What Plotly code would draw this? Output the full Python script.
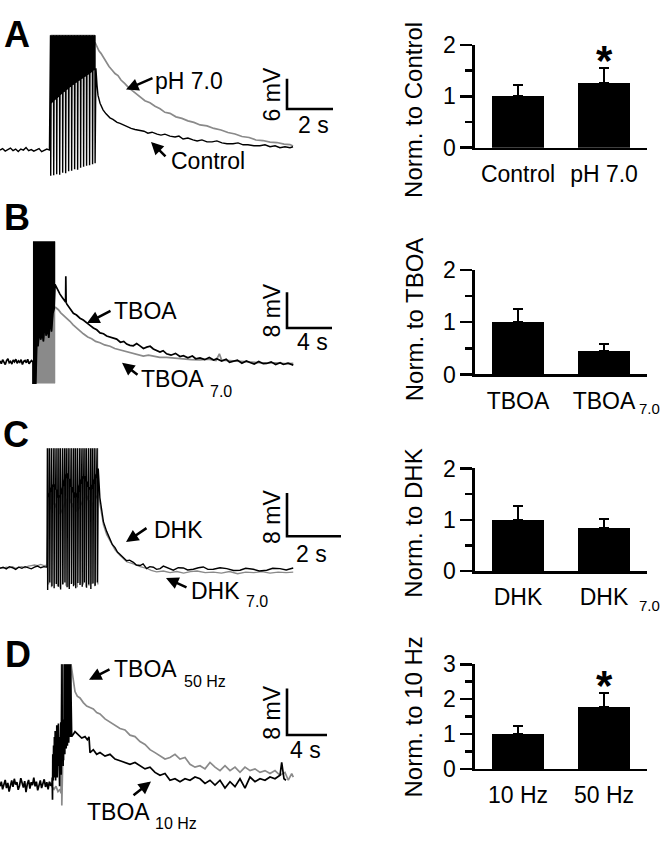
import numpy as np
import plotly.graph_objects as go

W, H = 669, 841
FONT = "Liberation Sans, Arial, Helvetica, sans-serif"
BLACK = "#000000"
GRAY = "#8a8a8a"

# ======================= DATA =======================
# ---- Panel A (time in s, membrane potential in mV) ----
A_pre_v = [0.1, 0.4, -0.1, 0.2, 0.5, 0.0, 0.3, -0.2, 0.3, 0.1, 0.6, 0.0, 0.2, -0.1, 0.1, 0.4, -0.2, 0.0, 0.3, 0.1]
A_pre_span = [0.0, 2.15]
A_spk_t = [2.20, 2.33, 2.46, 2.59, 2.72, 2.85, 2.98, 3.11, 3.24, 3.37, 3.50, 3.63, 3.76, 3.89, 4.02, 4.13]
A_spk_top = [22.9, 22.9, 22.9, 22.9, 22.9, 22.9, 22.9, 22.9, 22.9, 22.9, 22.9, 22.9, 22.9, 22.9, 22.9, 22.9]
A_spk_trough = [-5.0, -4.9, -4.7, -4.8, -4.4, -4.5, -4.1, -4.0, -3.7, -3.8, -3.4, -3.2, -3.0, -2.9, -2.7, -2.5]
A_spk_plateau = [9.4, 10.0, 10.5, 11.0, 11.6, 12.0, 12.5, 13.0, 13.4, 13.8, 14.2, 14.6, 15.0, 15.4, 15.9, 16.3]
A_control = [(4.17, 16.35), (4.22, 12.9), (4.26, 11.0), (4.35, 9.4), (4.48, 8.1), (4.61, 7.3), (4.78, 6.5),
             (4.91, 6.2), (5.09, 5.6), (5.22, 5.4), (5.39, 5.0), (5.52, 4.8), (5.70, 4.4), (5.87, 4.2),
             (6.09, 4.0), (6.26, 3.85), (6.43, 3.46), (6.61, 3.65), (6.83, 3.27), (7.00, 3.08), (7.17, 3.27),
             (7.39, 2.88), (7.61, 2.69), (7.78, 2.88), (7.96, 2.31), (8.17, 2.5), (8.39, 2.12), (8.57, 1.92),
             (8.78, 2.12), (9.00, 1.73), (9.22, 1.73), (9.43, 1.92), (9.65, 1.54), (9.87, 1.35), (10.13, 1.35),
             (10.35, 1.54), (10.57, 1.15), (10.78, 1.15), (11.04, 0.96), (11.30, 0.96), (11.52, 1.15),
             (11.74, 0.77), (11.96, 0.96), (12.17, 0.58), (12.39, 0.77), (12.61, 0.58), (12.74, 0.77)]
A_ph70 = [(4.13, 21.5), (4.22, 20.6), (4.30, 19.8), (4.39, 19.3), (4.48, 18.6), (4.61, 17.8), (4.74, 16.7),
          (4.87, 16.0), (5.00, 15.3), (5.13, 14.9), (5.26, 14.0), (5.43, 13.3), (5.61, 12.4), (5.78, 11.8),
          (5.96, 11.1), (6.13, 10.6), (6.30, 9.9), (6.52, 9.5), (6.74, 8.8), (6.96, 8.3), (7.17, 7.6),
          (7.39, 7.4), (7.65, 6.7), (7.91, 6.4), (8.17, 5.9), (8.43, 5.6), (8.70, 5.1), (9.00, 4.9),
          (9.30, 4.4), (9.61, 4.1), (9.91, 3.6), (10.22, 3.3), (10.52, 2.8), (10.83, 2.6), (11.13, 2.1),
          (11.43, 2.0), (11.74, 1.7), (12.04, 1.6), (12.35, 1.3), (12.61, 1.2), (12.74, 0.9)]

# ---- Panel B ----
B_pre_v = [0.2, -0.4, 0.5, 0.0, -0.6, 0.3, 0.7, -0.2, 0.1, -0.5, 0.4, 0.0, 0.6, -0.3, 0.2, -0.1,
           0.5, -0.6, 0.1, 0.3, -0.2, 0.6, -0.4, 0.0, 0.3, -0.1]
B_pre_span = [0.0, 2.93]
B_tboa_burst_t = [2.93, 3.05, 3.18, 3.27, 3.38, 3.50, 3.62, 3.74, 3.86, 3.98, 4.10, 4.22, 4.34, 4.46, 4.58, 4.70, 4.82, 4.89]
B_tboa_burst_lo = [-4.8, -4.8, -4.8, 4.3, 3.5, 7.2, 5.0, 6.5, 4.6, 8.7, 5.9, 7.5, 5.4, 9.6, 6.8, 10.9, 12.0, 17.4]
B_tboa_burst_hi = [27.0, 27.0, 27.0, 27.0, 27.0, 27.0, 27.0, 27.0, 27.0, 27.0, 27.0, 27.0, 27.0, 27.0, 27.0, 27.0, 27.0, 27.0]
B_tboa70_burst_t = [3.20, 4.89]
B_tboa70_burst_lo = [-4.8, -4.8]
B_tboa70_burst_hi = [12.3, 12.3]
B_tboa = [(4.89, 17.4), (5.10, 16.3), (5.33, 15.2), (5.55, 14.4), (5.78, 13.6), (5.83, 13.8), (5.85, 19.2),
          (5.88, 13.4), (5.93, 13.0), (6.20, 12.0), (6.52, 10.9), (6.80, 10.5), (7.11, 9.8), (7.40, 9.4),
          (7.70, 8.7), (8.00, 8.2), (8.30, 7.6), (8.60, 7.2), (8.89, 6.5), (9.20, 6.3), (9.48, 5.8),
          (9.80, 5.5), (10.05, 5.3), (10.37, 5.1), (10.70, 4.4), (11.00, 4.6), (11.26, 4.0), (11.55, 3.7),
          (11.85, 3.6), (12.15, 4.1), (12.44, 3.6), (12.75, 3.0), (13.04, 3.3), (13.35, 3.5), (13.63, 2.9),
          (13.90, 2.6), (14.22, 2.2), (14.50, 2.5), (14.81, 1.8), (15.20, 1.5), (15.60, 1.9), (16.00, 1.2),
          (16.30, 1.4), (16.70, 0.9), (17.10, 1.3), (17.40, 0.7), (17.78, 0.9), (18.20, 0.5), (18.60, 1.0),
          (19.00, 0.4), (19.26, 0.7), (19.70, 0.2), (20.10, 0.6), (20.40, -0.1), (20.74, 0.14), (21.10, 0.4),
          (21.50, -0.3), (21.90, 0.2), (22.22, -0.14), (22.60, -0.5), (23.00, 0.1), (23.40, -0.4),
          (23.70, -0.36), (24.10, 0.0), (24.50, -0.6), (24.90, -0.2), (25.19, -0.58), (25.60, -0.3), (26.07, -0.72)]
B_tboa70 = [(4.89, 12.3), (5.05, 12.0), (5.19, 11.7), (5.40, 11.0), (5.63, 10.5), (5.90, 9.9), (6.22, 9.1),
            (6.50, 8.3), (6.81, 7.6), (7.10, 6.9), (7.41, 6.3), (7.80, 5.6), (8.15, 5.2), (8.50, 4.6),
            (8.89, 4.3), (9.30, 3.8), (9.78, 3.5), (10.20, 3.0), (10.67, 2.7), (11.20, 2.3), (11.85, 1.8),
            (12.30, 1.6), (12.74, 1.3), (13.20, 1.5), (13.63, 1.3), (14.20, 1.0), (14.81, 1.0), (15.50, 0.8),
            (16.30, 0.7), (17.00, 0.5), (17.78, 0.43), (18.50, 0.6), (19.20, 0.3), (19.50, 1.8), (19.70, 0.4),
            (20.20, 0.3), (20.74, 0.14), (21.50, 0.0), (22.30, -0.1), (23.00, -0.3), (23.70, -0.3),
            (24.50, -0.2), (25.30, -0.4), (26.07, -0.36)]

# ---- Panel C ----
C_pre_dhk_v = [0.0, 0.2, -0.1, 0.3, 0.1, -0.2, 0.2, 0.0, 0.3, 0.1, -0.1, 0.2, 0.4, 0.1, 0.3, 0.2]
C_pre_dhk70_v = [0.1, 0.0, 0.2, 0.1, 0.3, 0.0, 0.2, 0.3, 0.1, 0.4, 0.5, 0.6, 0.5, 0.7, 0.5, 0.6]
C_pre_span = [0.0, 1.74]
C_dhk_spk_t = [1.76, 1.84, 1.92, 2.00, 2.08, 2.16, 2.24, 2.32, 2.40, 2.48, 2.56, 2.64,
               2.72, 2.80, 2.88, 2.96, 3.04, 3.12, 3.20, 3.28, 3.36, 3.44, 3.52, 3.60]
C_dhk_spk_top = [22.1, 22.1, 22.1, 22.1, 22.1, 22.1, 22.1, 22.1, 22.1, 22.1, 22.1, 22.1,
                 22.1, 22.1, 22.1, 22.1, 22.1, 22.1, 22.1, 22.1, 22.1, 22.1, 22.1, 22.1]
C_dhk_spk_trough = [-4.0, -2.6, -3.3, -3.7, -2.9, -3.4, -3.9, -3.0, -2.6, -3.5, -3.8, -2.9,
                    -3.3, -3.7, -2.7, -3.1, -3.4, -2.6, -3.6, -3.0, -3.8, -2.8, -3.2, -2.6]
C_dhk_spk_plateau = [13.0, 14.0, 15.0, 15.5, 14.5, 13.0, 13.5, 15.0, 16.5, 17.5, 16.5, 15.0,
                     14.0, 13.0, 14.0, 15.5, 16.5, 17.0, 16.0, 15.0, 14.5, 15.5, 16.5, 17.5]
C_dhk70_spk_t = [1.80, 1.90, 2.01, 2.12, 2.22, 2.33, 2.44, 2.54, 2.65, 2.76, 2.86, 2.97, 3.08, 3.18, 3.29, 3.40, 3.50, 3.62]
C_dhk70_spk_top = [22.1, 22.1, 22.1, 22.1, 22.1, 22.1, 22.1, 22.1, 22.1, 22.1, 22.1, 22.1, 22.1, 22.1, 22.1, 22.1, 22.1, 22.1]
C_dhk70_spk_trough = [-3.0, -3.5, -2.8, -3.3, -3.6, -2.9, -3.2, -3.4, -2.7, -3.1, -3.5, -2.8, -3.0, -3.4, -3.2, -2.9, -3.3, -3.0]
C_dhk70_spk_plateau = [10.5, 11.5, 12.0, 11.0, 10.0, 11.0, 12.5, 13.0, 12.0, 11.0, 10.5, 11.5, 12.5, 13.5, 12.5, 11.5, 12.5, 13.5]
C_dhk = [(3.64, 18.4), (3.70, 13.0), (3.77, 10.4), (3.83, 8.6), (3.95, 6.8), (4.07, 5.3), (4.16, 4.4),
         (4.26, 3.8), (4.35, 3.0), (4.44, 2.6), (4.56, 2.0), (4.69, 1.4), (4.80, 1.5), (4.94, 1.1),
         (5.05, 0.6), (5.19, 0.5), (5.30, 0.8), (5.43, -0.06), (5.55, 0.3), (5.68, 0.2), (5.80, -0.2),
         (5.93, -0.06), (6.05, 0.4), (6.17, 0.2), (6.30, -0.1), (6.42, -0.36), (6.60, 0.1), (6.79, 0.06),
         (6.95, -0.3), (7.16, -0.18), (7.35, 0.1), (7.53, 0.24), (7.70, -0.2), (7.90, -0.18), (8.15, 0.1),
         (8.40, -0.06), (8.65, -0.4), (8.89, -0.36), (9.10, 0.0), (9.38, -0.18), (9.60, -0.5), (9.88, -0.36),
         (10.10, 0.0), (10.37, -0.06), (10.60, -0.3), (10.86, 0.06)]
C_dhk70 = [(3.62, 16.0), (3.70, 11.8), (3.83, 8.0), (3.95, 6.2), (4.07, 5.0), (4.26, 3.4), (4.44, 2.4),
           (4.69, 1.2), (4.94, 0.8), (5.19, 0.3), (5.43, 0.0), (5.60, -0.4), (5.80, -0.66), (6.05, -0.5),
           (6.30, -0.8), (6.55, -0.6), (6.80, -0.9), (7.05, -0.6), (7.30, -0.5), (7.60, -0.8), (7.90, -0.7),
           (8.20, -0.9), (8.50, -0.6), (8.80, -1.0), (9.10, -0.7), (9.40, -0.8), (9.70, -0.6), (10.00, -0.9),
           (10.30, -0.7), (10.60, -0.8), (10.86, -0.7)]

# ---- Panel D ----
D_pre_10_v = [-0.5, 0.3, -1.0, -0.2, 0.6, -0.8, 0.1, -1.4, -0.3, 0.5, -0.6, 0.8, -0.2, 0.2, -1.1, -0.4,
              0.9, 0.0, -0.7, 0.4, -1.5, -0.1, 0.6, -0.9, 0.2, -0.3, 1.0, -0.5, 0.3, -1.2, -0.2, 0.5,
              -0.8, 0.1, 0.7, -0.6, 0.2, -1.0, 0.3, -0.4, 0.0]
D_pre_span = [0.0, 5.2]
D_burst_10 = [(5.22, 1.0), (5.25, -2.8), (5.28, 5.0), (5.32, 0.5), (5.36, 6.5), (5.40, 1.0), (5.44, 8.0),
              (5.48, 2.5), (5.52, 9.0), (5.56, 0.5), (5.60, 8.5), (5.64, 2.0), (5.68, 10.0), (5.72, 1.0),
              (5.76, 9.5), (5.80, 3.0), (5.84, 10.3), (5.88, 2.0), (5.92, 9.0), (5.96, -0.5), (6.00, 8.0),
              (6.04, 2.0), (6.08, 10.5), (6.12, 1.5), (6.16, 9.0), (6.20, 20.5), (6.23, 4.0), (6.27, 10.0),
              (6.31, 3.0), (6.35, 11.0), (6.40, 5.0), (6.45, 20.5), (6.48, 5.0), (6.53, 10.5), (6.58, 20.5),
              (6.62, 6.0), (6.66, 11.0), (6.70, 20.5), (6.74, 6.5), (6.78, 10.0), (6.83, 20.5), (6.87, 7.0),
              (6.92, 11.0), (6.96, 20.5), (7.00, 8.0), (7.05, 20.5), (7.10, 8.5)]
D_10hz = [(7.17, 8.05), (7.50, 8.9), (7.83, 8.3), (8.17, 7.8), (8.50, 8.05), (8.73, 7.5), (8.90, 8.0),
          (9.00, 5.3), (9.33, 5.8), (9.67, 5.0), (10.0, 5.3), (10.5, 4.7), (11.0, 5.0), (11.5, 4.2),
          (12.0, 3.9), (12.5, 3.6), (13.0, 3.3), (13.5, 3.6), (14.0, 3.05), (14.5, 2.5), (15.0, 2.8),
          (15.5, 1.9), (16.0, 1.4), (16.5, 1.7), (17.0, 0.55), (17.5, 0.8), (18.0, 0.3), (18.5, 0.8),
          (19.0, 0.55), (19.5, 1.1), (20.0, 0.8), (20.5, 0.0), (21.0, 0.55), (21.5, -0.3), (22.0, 0.55),
          (22.5, -0.8), (23.0, 0.3), (23.5, -0.55), (24.0, 0.8), (24.5, -0.8), (25.0, 1.1), (25.5, 0.3),
          (26.0, 0.8), (26.5, 0.55), (27.0, 1.1), (27.5, 0.8), (28.0, 1.4), (28.17, 3.6), (28.4, 0.8),
          (28.6, 0.55)]
D_pre_50 = [(4.8, -0.4), (5.0, 0.2), (5.2, -0.6), (5.4, -1.0), (5.6, -0.5), (5.8, -1.4), (6.0, -1.0), (6.1, -1.7)]
D_burst_50 = [(6.15, 20.5), (6.18, -3.8), (6.25, 2.0), (6.35, 20.5), (6.40, 4.0), (6.50, 20.5), (6.55, 6.0),
              (6.65, 20.5), (6.70, 8.0), (6.80, 20.5), (6.85, 9.0), (6.95, 20.5), (7.00, 10.0), (7.10, 20.5)]
D_50hz = [(7.17, 19.7), (7.33, 18.05), (7.50, 15.8), (7.73, 15.0), (8.0, 14.7), (8.33, 13.9), (8.67, 13.3),
          (9.0, 13.05), (9.33, 12.8), (9.67, 12.2), (10.0, 11.95), (10.5, 11.1), (11.0, 10.55), (11.5, 10.0),
          (12.0, 9.45), (12.5, 9.2), (13.0, 8.3), (13.5, 8.05), (14.0, 7.2), (14.5, 6.7), (15.0, 5.8),
          (15.5, 5.3), (16.0, 4.7), (16.5, 4.2), (17.0, 4.45), (17.5, 5.0), (18.0, 4.2), (18.5, 4.45),
          (19.0, 3.3), (19.5, 2.8), (20.0, 3.05), (20.5, 2.5), (21.0, 3.6), (21.5, 2.8), (22.0, 2.2),
          (22.5, 3.05), (23.0, 2.2), (23.5, 2.8), (24.0, 1.9), (24.5, 2.8), (25.0, 2.2), (25.5, 2.5),
          (26.0, 1.9), (26.5, 2.2), (27.0, 1.7), (27.5, 2.2), (28.0, 1.4), (28.5, 1.9), (28.83, 0.55),
          (29.17, 1.7), (29.33, 1.1)]

# ---- scale bars ----
scale_time_s = [2, 4, 2, 4]
scale_mv = [6, 8, 8, 8]

# ---- bar charts ----
bar_cats = [["Control", "pH 7.0"], ["TBOA", "TBOA"], ["DHK", "DHK"], ["10 Hz", "50 Hz"]]
bar_subs = [["", ""], ["", "7.0"], ["", "7.0"], ["", ""]]
bar_means = [[1.0, 1.26], [1.0, 0.44], [1.0, 0.85], [1.0, 1.78]]
bar_sem = [[0.23, 0.29], [0.26, 0.15], [0.26, 0.17], [0.22, 0.39]]
bar_sig = [[False, True], [False, False], [False, False], [False, True]]
bar_ymax = [2, 2, 2, 3]
bar_ytitles = ["Norm. to Control", "Norm. to TBOA", "Norm. to DHK", "Norm. to 10 Hz"]
panel_letters = ["A", "B", "C", "D"]

# ======================= LAYOUT GEOMETRY (pixels) =======================
def px_x(px):
    return px / W

def px_y(py):
    return 1 - py / H

trace_geo = [
    dict(sx=23.0, sy=5.2, y0=142, top=18, bot=182, sb=(287, 99)),
    dict(sx=11.25, sy=4.6, y0=360, top=228, bot=398, sb=(287, 325)),
    dict(sx=27.0, sy=5.6, y0=573, top=440, bot=605, sb=(287, 540)),
    dict(sx=10.0, sy=6.0, y0=795, top=660, bot=835, sb=(287, 745)),
]
TR_X = (0, 345)
bar_geo = [(33, 139), (265, 373), (470, 576), (672, 780)]  # (top px, bottom px)
BAR_X = (475, 647)

fig = go.Figure()
LW = 1.7


def unzip(pairs):
    return [p[0] for p in pairs], [p[1] for p in pairs]


def spikes(ts, tops, troughs, plateaus):
    xs, ys = [], []
    for t, hi, lo, pl in zip(ts, tops, troughs, plateaus):
        xs += [t - 0.02, t - 0.005, t + 0.005, t + 0.02]
        ys += [pl, hi, lo, pl]
    return xs, ys


def axn(k):
    return ("x" if k == 1 else f"x{k}"), ("y" if k == 1 else f"y{k}")


def line(ax_i, xs, ys, color, width=LW):
    xa, ya = axn(ax_i)
    fig.add_trace(go.Scatter(x=xs, y=ys, mode="lines", line=dict(color=color, width=width),
                             xaxis=xa, yaxis=ya, hoverinfo="skip"))


def band(ax_i, ts, lo, hi, color):
    xa, ya = axn(ax_i)
    xs = list(ts) + list(ts)[::-1]
    ys = list(hi) + list(lo)[::-1]
    fig.add_trace(go.Scatter(x=xs, y=ys, mode="lines", fill="toself", fillcolor=color,
                             line=dict(color=color, width=0.5), xaxis=xa, yaxis=ya, hoverinfo="skip"))

# ---- Panel A traces ----
t_pre = list(np.linspace(A_pre_span[0], A_pre_span[1], len(A_pre_v)))
x_ph, y_ph = unzip(A_ph70)
line(1, x_ph, y_ph, GRAY)
band(1, A_spk_t, A_spk_plateau, A_spk_top, BLACK)
sx_, sy_ = spikes(A_spk_t, A_spk_top, A_spk_trough, A_spk_plateau)
xc, yc = unzip(A_control)
line(1, t_pre + sx_ + xc, A_pre_v + sy_ + yc, BLACK, 1.4)

# ---- Panel B traces ----
band(2, B_tboa70_burst_t, B_tboa70_burst_lo, B_tboa70_burst_hi, GRAY)
x7, y7 = unzip(B_tboa70)
line(2, x7, y7, GRAY)
band(2, B_tboa_burst_t, B_tboa_burst_lo, B_tboa_burst_hi, BLACK)
t_pre = list(np.linspace(B_pre_span[0], B_pre_span[1], len(B_pre_v)))
xb, yb = unzip(B_tboa)
line(2, t_pre + B_tboa_burst_t + xb, B_pre_v + B_tboa_burst_lo + yb, BLACK)

# ---- Panel C traces ----
t_pre = list(np.linspace(C_pre_span[0], C_pre_span[1], len(C_pre_dhk70_v)))
sx_, sy_ = spikes(C_dhk70_spk_t, C_dhk70_spk_top, C_dhk70_spk_trough, C_dhk70_spk_plateau)
x7, y7 = unzip(C_dhk70)
line(3, t_pre + sx_ + x7, C_pre_dhk70_v + sy_ + y7, GRAY, 1.3)
t_pre = list(np.linspace(C_pre_span[0], C_pre_span[1], len(C_pre_dhk_v)))
sx_, sy_ = spikes(C_dhk_spk_t, C_dhk_spk_top, C_dhk_spk_trough, C_dhk_spk_plateau)
xd, yd = unzip(C_dhk)
line(3, t_pre + sx_ + xd, C_pre_dhk_v + sy_ + yd, BLACK, 1.4)

# ---- Panel D traces ----
xp, yp = unzip(D_pre_50)
xbb, ybb = unzip(D_burst_50)
x5, y5 = unzip(D_50hz)
line(4, xp + xbb + x5, yp + ybb + y5, GRAY)
t_pre = list(np.linspace(D_pre_span[0], D_pre_span[1], len(D_pre_10_v)))
xbb, ybb = unzip(D_burst_10)
x1, y1 = unzip(D_10hz)
line(4, t_pre + xbb + x1, D_pre_10_v + ybb + y1, BLACK)

# ---- scale bars (in data units of each trace panel) ----
for i, g in enumerate(trace_geo):
    k = i + 1
    t0 = (g["sb"][0] - TR_X[0]) / g["sx"]
    v0 = (g["y0"] - g["sb"][1]) / g["sy"]
    line(k, [t0, t0, t0 + scale_time_s[i]], [v0 + scale_mv[i], v0, v0], BLACK, 2.6)

# ---- axes for trace panels ----
layout_axes = {}
for i, g in enumerate(trace_geo):
    k = i + 1
    xname = "xaxis" if k == 1 else f"xaxis{k}"
    yname = "yaxis" if k == 1 else f"yaxis{k}"
    xa, ya = axn(k)
    layout_axes[xname] = dict(domain=[px_x(TR_X[0]), px_x(TR_X[1])],
                              range=[0, (TR_X[1] - TR_X[0]) / g["sx"]], visible=False, anchor=ya)
    layout_axes[yname] = dict(domain=[px_y(g["bot"]), px_y(g["top"])],
                              range=[(g["y0"] - g["bot"]) / g["sy"], (g["y0"] - g["top"]) / g["sy"]],
                              visible=False, anchor=xa)

# ---- bar charts ----
annotations = []
AX_W = 2.6
for i in range(4):
    k = i + 5
    fig.add_trace(go.Bar(
        x=[0, 1], y=bar_means[i], width=0.6, marker=dict(color=BLACK, line=dict(width=0)),
        error_y=dict(type="data", array=bar_sem[i], arrayminus=[0, 0], symmetric=False,
                     color=BLACK, thickness=2, width=5),
        xaxis=f"x{k}", yaxis=f"y{k}", hoverinfo="skip"))
    top, bot = bar_geo[i]
    layout_axes[f"xaxis{k}"] = dict(
        domain=[px_x(BAR_X[0]), px_x(BAR_X[1])], range=[-0.5, 1.5], anchor=f"y{k}",
        showline=True, linewidth=AX_W, linecolor=BLACK, ticks="", showgrid=False, zeroline=False,
        tickmode="array", tickvals=[0, 1], ticktext=bar_cats[i],
        tickfont=dict(family=FONT, size=23, color=BLACK), ticklabelstandoff=4)
    layout_axes[f"yaxis{k}"] = dict(
        domain=[px_y(bot), px_y(top)], range=[0, bar_ymax[i]], anchor=f"x{k}",
        showline=True, linewidth=AX_W, linecolor=BLACK, showgrid=False, zeroline=False,
        ticks="outside", ticklen=12, tickwidth=AX_W, tickcolor=BLACK, dtick=1, tick0=0,
        tickfont=dict(family=FONT, size=23, color=BLACK),
        minor=dict(ticks="outside", ticklen=7, tickwidth=AX_W, tickcolor=BLACK, dtick=0.5, showgrid=False))
    ycen = [100, 316, 527, 727][i]
    annotations.append(dict(text=bar_ytitles[i], x=px_x(414), y=px_y(ycen), xref="paper", yref="paper",
                            textangle=-90, showarrow=False, xanchor="center", yanchor="middle",
                            font=dict(family=FONT, size=24, color=BLACK)))
    for j in range(2):
        if bar_subs[i][j]:
            annotations.append(dict(text=bar_subs[i][j], x=j, y=0, xref=f"x{k}", yref=f"y{k}",
                                    xshift=33, yshift=-34, showarrow=False, xanchor="left",
                                    yanchor="middle", font=dict(family=FONT, size=15, color=BLACK)))
        if bar_sig[i][j]:
            annotations.append(dict(text="<b>*</b>", x=j, y=bar_means[i][j] + bar_sem[i][j], xref=f"x{k}",
                                    yref=f"y{k}", yshift=8, showarrow=False, xanchor="center",
                                    yanchor="middle", font=dict(family=FONT, size=42, color=BLACK)))


def txt(s, x, y, size=23, angle=0, xanchor="center", bold=False):
    annotations.append(dict(text=f"<b>{s}</b>" if bold else s, x=px_x(x), y=px_y(y), xref="paper",
                            yref="paper", showarrow=False, xanchor=xanchor, yanchor="middle",
                            textangle=angle, font=dict(family=FONT, size=size, color=BLACK)))


def arrow(tail, head):
    annotations.append(dict(text="", x=px_x(head[0]), y=px_y(head[1]), xref="paper", yref="paper",
                            ax=tail[0] - head[0], ay=tail[1] - head[1], axref="pixel", ayref="pixel",
                            showarrow=True, arrowhead=2, arrowsize=1.0, arrowwidth=2.5,
                            arrowcolor=BLACK, standoff=0, startstandoff=0))

for letter, (lx, ly) in zip(panel_letters, [(17, 22), (17, 211), (16, 435), (18, 662)]):
    txt(letter, lx, ly, size=36, bold=True)

# Panel A labels
txt("pH 7.0", 189, 70)
arrow((154, 67), (126, 79))
txt("Control", 208, 153)
arrow((167, 149), (151, 133))
txt("6 mV", 272, 84, angle=-90)
txt("2 s", 313, 116)
# Panel B labels
txt("TBOA", 145, 308)
arrow((112, 307), (87, 320))
txt("TBOA", 172, 378)
txt("7.0", 208, 391, size=16, xanchor="left")
arrow((139, 374), (122, 361))
txt("8 mV", 272, 307, angle=-90)
txt("4 s", 312, 340)
# Panel C labels
txt("DHK", 178, 534)
arrow((148, 531), (126, 546))
txt("DHK", 215, 596)
txt("7.0", 244, 607, size=16, xanchor="left")
arrow((188, 593), (166, 583))
txt("8 mV", 272, 520, angle=-90)
txt("2 s", 311, 558)
# Panel D labels
txt("TBOA", 145, 677)
txt("50 Hz", 182, 690, size=16, xanchor="left")
arrow((111, 677), (89, 688))
txt("TBOA", 118, 824)
txt("10 Hz", 153, 836, size=16, xanchor="left")
arrow((132, 808), (151, 793))
txt("8 mV", 272, 722, angle=-90)
txt("4 s", 305, 760)

fig.update_layout(
    width=W, height=H, margin=dict(l=0, r=0, t=0, b=0), showlegend=False,
    paper_bgcolor="white", plot_bgcolor="white", font=dict(family=FONT, color=BLACK),
    annotations=annotations, bargap=0, **layout_axes)

fig.write_html("out.html", config={"displayModeBar": False, "staticPlot": True},
               post_script="document.body.style.margin='0';document.body.style.overflow='hidden';")
